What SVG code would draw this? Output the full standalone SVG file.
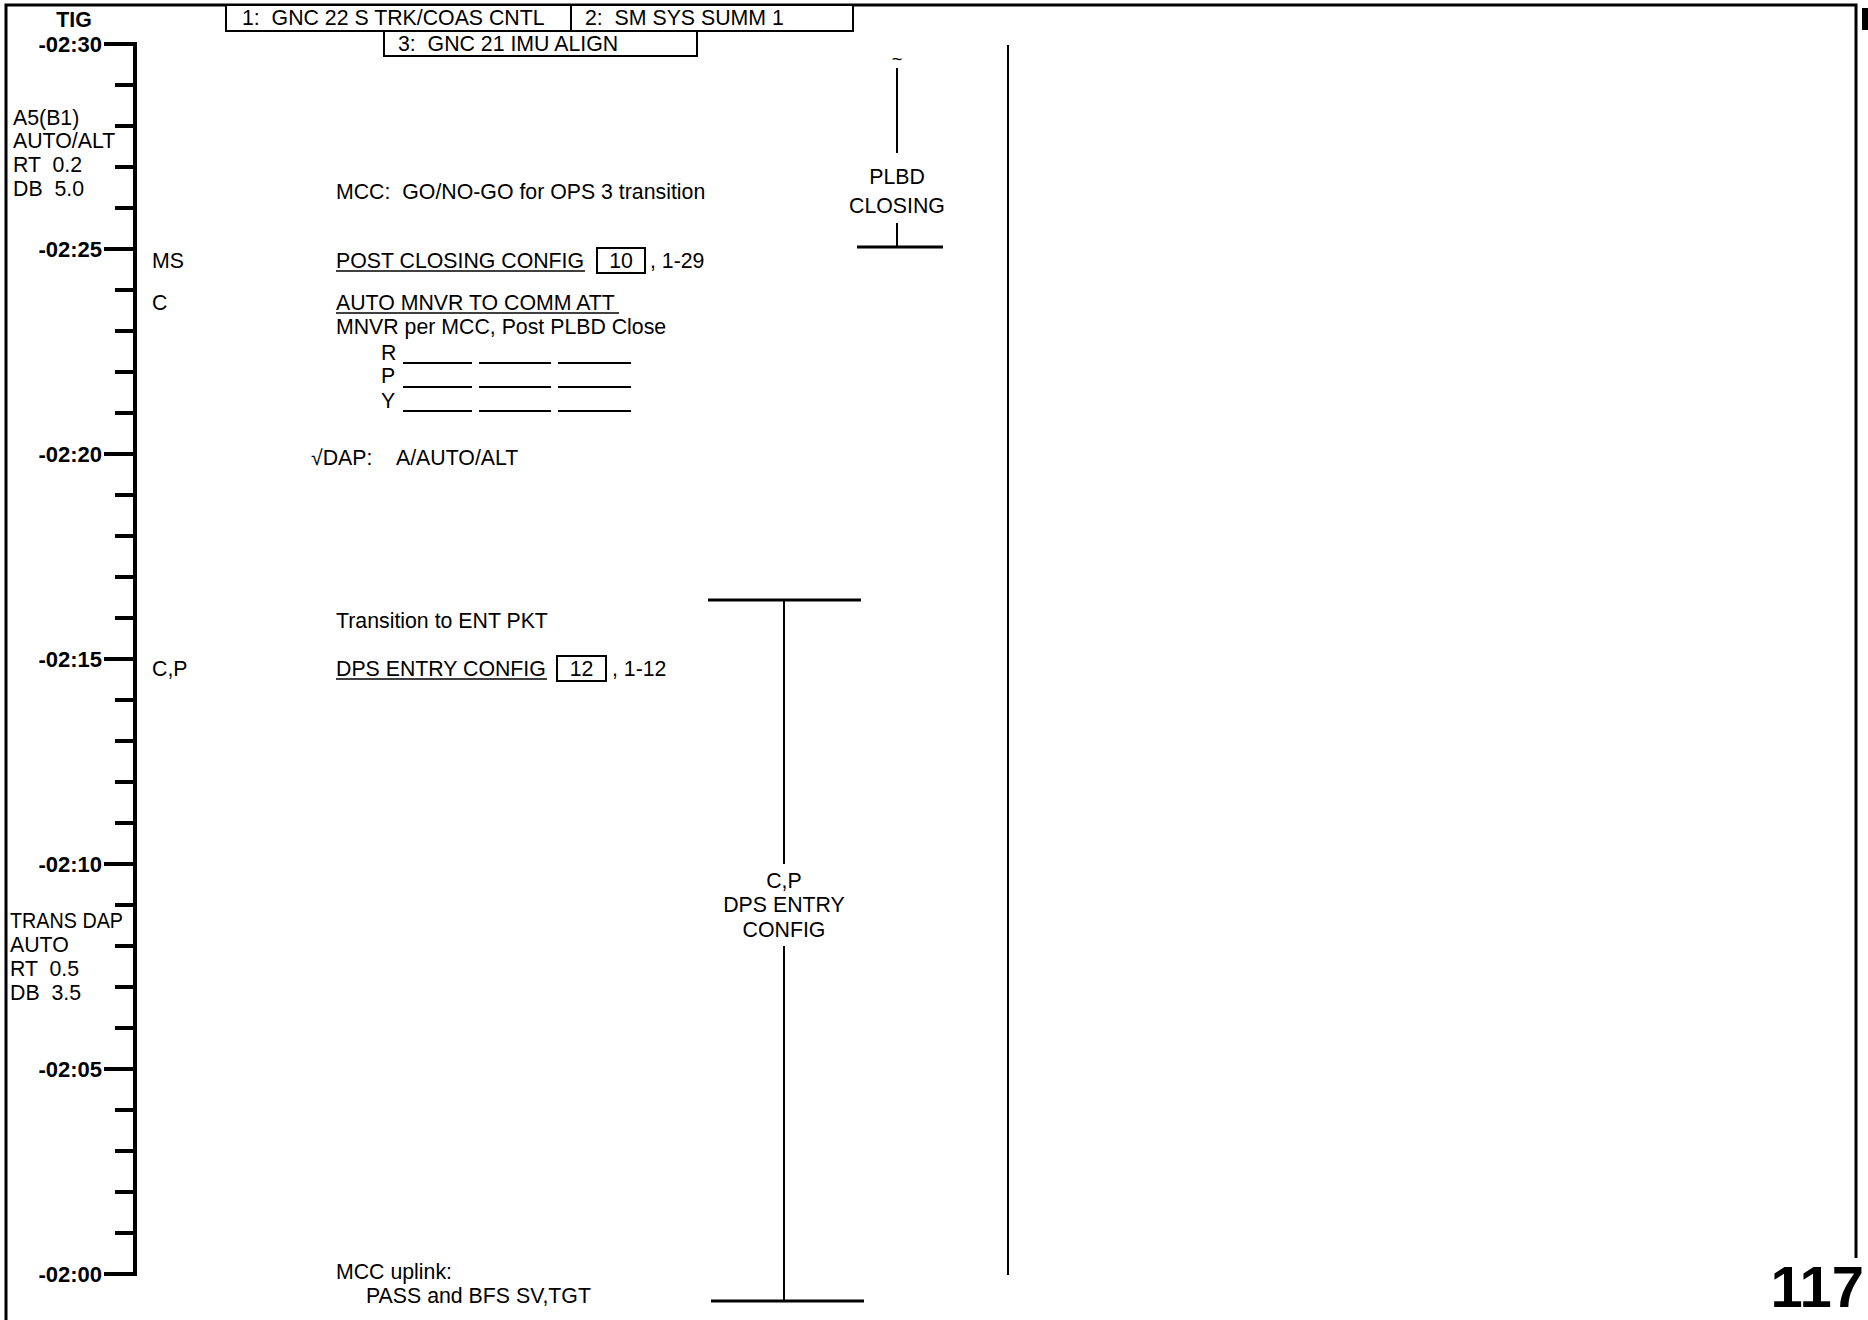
<svg xmlns="http://www.w3.org/2000/svg" width="1868" height="1320" viewBox="0 0 1868 1320" xml:space="preserve">
<style>
text{font-family:"Liberation Sans",Arial,sans-serif;font-size:21.3px;fill:#000;white-space:pre}
.b{font-weight:bold}
.t{font-weight:bold;font-size:22px;text-anchor:end}
.m{text-anchor:middle}
.e{text-anchor:end}
.ax{stroke:#000;stroke-width:4;fill:none}
.ln{stroke:#000;stroke-width:2;fill:none}
.bar{stroke:#000;stroke-width:3;fill:none}
.bx{stroke:#000;stroke-width:2;fill:#fff}
.ul{stroke:#000;stroke-width:1.6}
</style>
<rect width="1868" height="1320" fill="#fff"/>
<g id="frame">
<path d="M6,1320 V5 H1856 V1258" fill="none" stroke="#000" stroke-width="3"/>
<rect x="1862" y="8" width="6" height="22" fill="#000"/>
</g>
<g id="header">
<rect class="bx" x="226" y="5" width="627" height="26"/>
<line class="ln" x1="571" y1="5" x2="571" y2="31"/>
<rect class="bx" x="384" y="31" width="313" height="25"/>
<text x="242" y="25">1:  GNC 22 S TRK/COAS CNTL</text>
<text x="585" y="25">2:  SM SYS SUMM 1</text>
<text x="398" y="51">3:  GNC 21 IMU ALIGN</text>
</g>
<g id="timeline">
<text class="b m" x="74" y="27">TIG</text>
<path class="ax" d="M104,44 H135 V1274 H104 M104,249 H135 M104,454 H135 M104,659 H135 M104,864 H135 M104,1069 H135 M115,85 H135 M115,126 H135 M115,167 H135 M115,208 H135 M115,290 H135 M115,331 H135 M115,372 H135 M115,413 H135 M115,495 H135 M115,536 H135 M115,577 H135 M115,618 H135 M115,700 H135 M115,741 H135 M115,782 H135 M115,823 H135 M115,905 H135 M115,946 H135 M115,987 H135 M115,1028 H135 M115,1110 H135 M115,1151 H135 M115,1192 H135 M115,1233 H135"/>
<text class="t" x="102" y="52">-02:30</text>
<text class="t" x="102" y="257">-02:25</text>
<text class="t" x="102" y="462">-02:20</text>
<text class="t" x="102" y="667">-02:15</text>
<text class="t" x="102" y="872">-02:10</text>
<text class="t" x="102" y="1077">-02:05</text>
<text class="t" x="102" y="1282">-02:00</text>
</g>
<g id="dap-a5">
<text x="13" y="125">A5(B1)</text>
<text x="13" y="148">AUTO/ALT</text>
<text x="13" y="172">RT  0.2</text>
<text x="13" y="196">DB  5.0</text>
</g>
<g id="dap-trans">
<text x="10" y="928" textLength="113" lengthAdjust="spacingAndGlyphs">TRANS DAP</text>
<text x="10" y="952">AUTO</text>
<text x="10" y="976">RT  0.5</text>
<text x="10" y="1000">DB  3.5</text>
</g>
<g id="go-nogo">
<text x="336" y="199">MCC:  GO/NO-GO for OPS 3 transition</text>
</g>
<g id="post-closing">
<text x="152" y="268">MS</text>
<text x="336" y="268">POST CLOSING CONFIG</text>
<line class="ul" x1="336" y1="271" x2="585" y2="271"/>
<rect class="bx" x="597" y="248" width="48" height="25"/>
<text class="m" x="621" y="268">10</text>
<text x="650" y="268">, 1-29</text>
</g>
<g id="auto-mnvr">
<text x="152" y="310">C</text>
<text x="336" y="310">AUTO MNVR TO COMM ATT</text>
<line class="ul" x1="336" y1="313" x2="619" y2="313"/>
<text x="336" y="334">MNVR per MCC, Post PLBD Close</text>
<text x="381" y="360">R</text>
<text x="381" y="383">P</text>
<text x="381" y="408">Y</text>
<path class="ln" d="M403,363 H472 M479,363 H551 M558,363 H631 M403,387 H472 M479,387 H551 M558,387 H631 M403,411 H472 M479,411 H551 M558,411 H631"/>
</g>
<g id="dap-check">
<text x="311" y="465">√DAP:<tspan x="396">A/AUTO/ALT</tspan></text>
</g>
<g id="ent-pkt">
<text x="336" y="628">Transition to ENT PKT</text>
</g>
<g id="dps-entry">
<text x="152" y="676">C,P</text>
<text x="336" y="676">DPS ENTRY CONFIG</text>
<line class="ul" x1="336" y1="679" x2="547" y2="679"/>
<rect class="bx" x="557" y="656" width="49" height="25"/>
<text class="m" x="581.5" y="676">12</text>
<text x="612" y="676">, 1-12</text>
</g>
<g id="uplink">
<text x="336" y="1279">MCC uplink:</text>
<text x="366" y="1303">PASS and BFS SV,TGT</text>
</g>
<g id="plbd-closing">
<text class="m" x="897" y="65" style="font-size:18px">~</text>
<text class="m" x="897" y="184">PLBD</text>
<text class="m" x="897" y="213">CLOSING</text>
</g>
<g id="dps-bracket-label">
<text class="m" x="784" y="888">C,P</text>
<text class="m" x="784" y="912">DPS ENTRY</text>
<text class="m" x="784" y="937">CONFIG</text>
</g>
<g id="connectors">
<line class="ln" x1="897" y1="68" x2="897" y2="153"/>
<line class="ln" x1="897" y1="223" x2="897" y2="247"/>
<line class="bar" x1="857" y1="247" x2="943" y2="247"/>
<line class="bar" x1="708" y1="600" x2="861" y2="600"/>
<line class="ln" x1="784" y1="600" x2="784" y2="864"/>
<line class="ln" x1="784" y1="946" x2="784" y2="1301"/>
<line class="bar" x1="711" y1="1301" x2="864" y2="1301"/>
<line class="ln" x1="1008" y1="45" x2="1008" y2="1275"/>
</g>
<g id="page-number">
<text class="b e" x="1864" y="1307" style="font-size:58px">117</text>
</g>
</svg>
